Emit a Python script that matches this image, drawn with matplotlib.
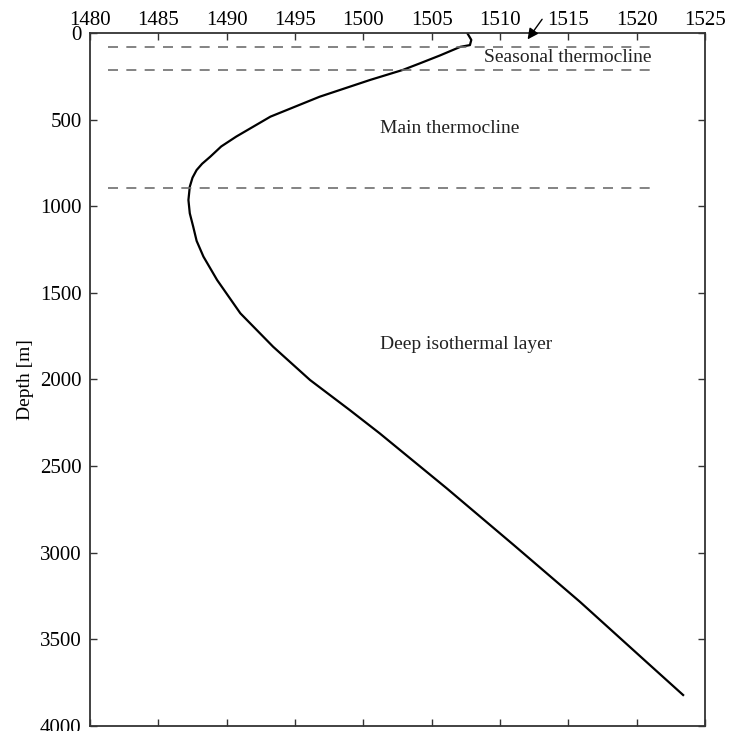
import matplotlib
matplotlib.use('Agg')
import matplotlib.pyplot as plt

plt.rcParams['font.family'] = ['Liberation Serif', 'DejaVu Serif']

# sound speed profile
speed = [1507.6, 1507.9, 1507.8, 1507.1, 1505.6, 1504.15, 1502.9, 1500.5,
         1496.8, 1493.2, 1490.7, 1489.6, 1488.8, 1488.2, 1487.8, 1487.5,
         1487.3, 1487.2, 1487.3, 1487.55, 1487.8, 1488.3, 1489.3, 1491.0,
         1493.4, 1496.1, 1499.0, 1501.2, 1506.1, 1511.0, 1515.85, 1520.7, 1523.4]
depth = [0, 40, 70, 80, 130, 175, 213, 271,
         368, 483, 598, 655, 714, 755, 791, 835,
         887, 964, 1041, 1118, 1200, 1291, 1426, 1618,
         1811, 2003, 2176, 2311, 2628, 2955, 3283, 3629, 3821]

layer_depths = [80, 213, 895]
layer_names = ['Seasonal thermocline', 'Main thermocline', 'Deep isothermal layer']
name_x = [1508.8, 1501.2, 1501.2]
name_y = [144, 550, 1800]

xticks = [1480, 1485, 1490, 1495, 1500, 1505, 1510, 1515, 1520, 1525]
yticks = [0, 500, 1000, 1500, 2000, 2500, 3000, 3500, 4000]

fig = plt.figure(figsize=(7.41, 7.31), dpi=100)
ax = fig.add_axes([0.1215, 0.0068, 0.8299, 0.9481])

ax.plot(speed, depth, color='k', lw=1.6, solid_joinstyle='round')
for d in layer_depths:
    ax.plot([1481.3, 1521.0], [d, d], color='#6e6e6e', lw=1.2, dashes=(6, 5))

for s, x, y in zip(layer_names, name_x, name_y):
    ax.text(x, y, s, fontsize=14, va='center', ha='left', color='#222222')

ax.annotate('', xy=(1511.9, 50), xytext=(1513.2, -92), annotation_clip=False,
            arrowprops=dict(arrowstyle='-|>', color='k', lw=1.0, mutation_scale=16))

ax.set_xlim(1480, 1525)
ax.set_ylim(4000, 0)
ax.set_xticks(xticks)
ax.set_yticks(yticks)
ax.xaxis.tick_top()
ax.tick_params(direction='in', length=5, width=1, colors='#333333', labelcolor='k',
               labelsize=15, top=True, bottom=True, left=True, right=True,
               labeltop=True, labelbottom=False)
ax.tick_params(axis='x', pad=2)
ax.tick_params(axis='y', pad=6)
for sp in ax.spines.values():
    sp.set_color('#333333')
    sp.set_linewidth(1.3)

ax.set_ylabel('Depth [m]', fontsize=14, labelpad=4)

fig.savefig('out.png', dpi=100)
